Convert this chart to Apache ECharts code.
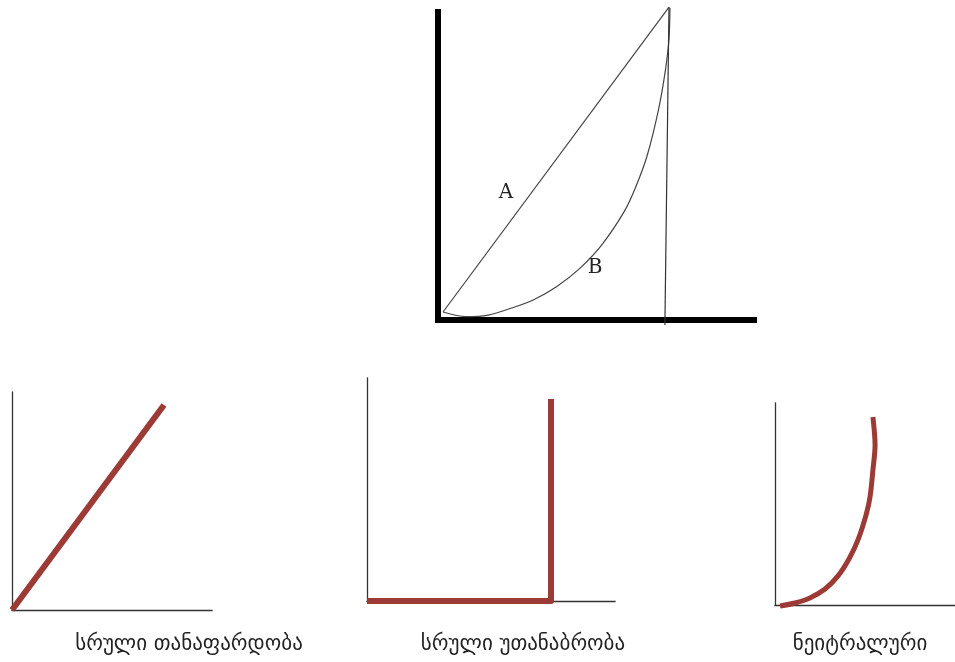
<!DOCTYPE html>
<html>
<head>
<meta charset="utf-8">
<script src="https://cdn.jsdelivr.net/npm/echarts@6/dist/echarts.min.js"></script>
<style>
  html, body { margin: 0; padding: 0; background: #fff; }
  #chart { width: 955px; height: 662px; }
</style>
</head>
<body>
<div id="chart"></div>
<script>
// top panel: equality diagonal (A), Lorenz curve (B), right edge line
const lineA = [[1.6, 2.6], [73.1, 101.6]]
const curveB = [[1.6, 2.6], [8.8, 1.1], [15.9, 1.6], [23.1, 3.8], [30.3, 6.6], [37.5, 10.8],
  [44.7, 16.6], [51.9, 24.5], [59.1, 35.5], [62.7, 43.5], [66.2, 53.4], [69.8, 68.4],
  [72.0, 81.4], [73.1, 91.3], [73.4, 101.3]]
const edgeLine = [[73.1, 101.6], [71.8, -1.6]]

// bottom panels
const fullEquality = [[0, 0], [76, 94]]
const fullInequality = [[0, 0], [74.2, 0], [74.2, 90.6]]
const neutral = [[2.8, -0.5], [11.1, 1.0], [19.4, 3.5], [27.8, 7.9], [35.0, 14.4], [41.1, 22.8],
  [46.1, 32.2], [50.6, 44.6], [52.8, 53.5], [54.4, 66.8], [55.6, 79.2], [54.4, 93.1]]

const panelTitles = ['სრული თანაფარდობა', 'სრული უთანაბრობა', 'ნეიტრალური']

const RED = '#9c3a36'
const font = 'DejaVu Sans'

// grid boxes (left, top, width, height) in pixels
const grids = [
  { left: 438, top: 12, width: 316, height: 308 },
  { left: 12, top: 392, width: 200, height: 218 },
  { left: 367, top: 378, width: 248, height: 223 },
  { left: 775, top: 403, width: 180, height: 202 }
]

function axis(i, lw, color) {
  return {
    type: 'value', gridIndex: i, min: 0, max: 100,
    axisLine: { show: true, onZero: false, lineStyle: { color: color, width: lw, cap: 'square' } },
    axisTick: { show: false }, axisLabel: { show: false }, splitLine: { show: false }
  }
}

function line(i, data, color, width, smooth) {
  return {
    type: 'line', xAxisIndex: i, yAxisIndex: i, data: data,
    smooth: smooth || false,
    showSymbol: false, clip: false, silent: true,
    lineStyle: { color: color, width: width, cap: 'butt', join: 'round' }
  }
}

let myChart = echarts.init(document.getElementById('chart'))

let option = {
  animation: false,
  grid: grids.map(g => Object.assign({ containLabel: false }, g)),
  xAxis: [axis(0, 6, '#000'), axis(1, 1.3, '#333'), axis(2, 1.3, '#333'), axis(3, 1.3, '#333')],
  yAxis: [axis(0, 6, '#000'), axis(1, 1.3, '#333'), axis(2, 1.3, '#333'), axis(3, 1.3, '#333')],
  series: [
    line(0, lineA, '#444', 1.2),
    line(0, curveB, '#444', 1.2, 0.3),
    line(0, edgeLine, '#333', 1.2),
    line(1, fullEquality, RED, 6),
    line(2, fullInequality, RED, 6),
    line(3, neutral, RED, 5, 0.3)
  ],
  graphic: [
    { type: 'text', x: 506, y: 193, style: { text: 'A', font: '20px "DejaVu Serif"', fill: '#222', textAlign: 'center', textVerticalAlign: 'middle' } },
    { type: 'text', x: 595, y: 268, style: { text: 'B', font: '20px "DejaVu Serif"', fill: '#222', textAlign: 'center', textVerticalAlign: 'middle' } },
    { type: 'text', x: 189, y: 645, style: { text: panelTitles[0], font: '21px "' + font + '"', fill: '#222', textAlign: 'center', textVerticalAlign: 'middle' } },
    { type: 'text', x: 523, y: 645, style: { text: panelTitles[1], font: '21px "' + font + '"', fill: '#222', textAlign: 'center', textVerticalAlign: 'middle' } },
    { type: 'text', x: 860, y: 645, style: { text: panelTitles[2], font: '21px "' + font + '"', fill: '#222', textAlign: 'center', textVerticalAlign: 'middle' } }
  ]
}

myChart.setOption(option)
</script>
</body>
</html>
